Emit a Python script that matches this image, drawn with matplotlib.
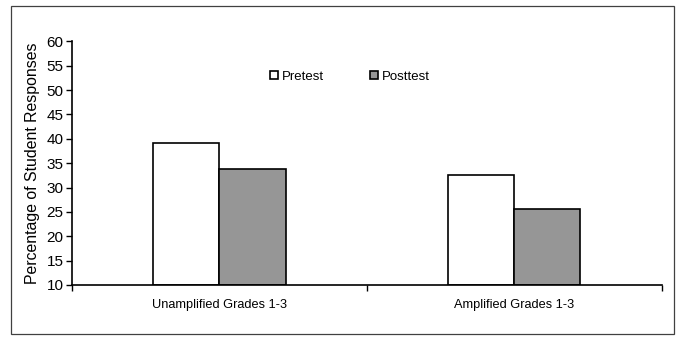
import matplotlib.pyplot as plt
import numpy as np
from matplotlib.patches import Rectangle, Patch

plt.rcParams['font.family'] = ['Liberation Sans', 'DejaVu Sans']

groups = ['Unamplified Grades 1-3', 'Amplified Grades 1-3']
pretest = [39.2, 32.6]
posttest = [33.9, 25.5]
series_names = ['Pretest', 'Posttest']

fig = plt.figure(figsize=(6.78, 3.39), dpi=100)
ax = fig.add_axes([0.1062, 0.1593, 0.870, 0.7188])

# outer border around the whole chart
fig.patches.append(Rectangle((0.0162, 0.0147), 0.978, 0.9676, transform=fig.transFigure,
                             fill=False, edgecolor='#404040', linewidth=0.9))

x = np.arange(len(groups)) + 0.5
w = 0.224
ax.bar(x - w / 2, np.array(pretest) - 10, w, bottom=10, color='white', edgecolor='black', linewidth=1.2)
ax.bar(x + w / 2, np.array(posttest) - 10, w, bottom=10, color='#969696', edgecolor='black', linewidth=1.2)

ax.set_xlim(0, 2)
ax.set_ylim(10, 60)
ax.set_yticks(range(10, 61, 5))
ax.tick_params(axis='y', labelsize=11, length=4, width=1, pad=2)
ax.set_xticks([0, 1, 2])
ax.set_xticklabels([])
ax.set_xticks(x, minor=True)
ax.set_xticklabels(groups, minor=True, fontsize=9.2)
ax.tick_params(axis='x', which='major', length=4, width=1)
ax.tick_params(axis='x', which='minor', length=0, pad=10)

for s in ['top', 'right']:
    ax.spines[s].set_visible(False)
for s in ['left', 'bottom']:
    ax.spines[s].set_linewidth(1.2)

ax.set_ylabel('Percentage of Student Responses', fontsize=11.4, labelpad=5)

handles = [Patch(facecolor='white', edgecolor='black', linewidth=1.2),
           Patch(facecolor='#969696', edgecolor='black', linewidth=1.2)]
ax.legend(handles, series_names, ncol=2, frameon=False, fontsize=9.5,
          handlelength=0.6, handleheight=0.6, handletextpad=0.3, columnspacing=3.45,
          loc='center', bbox_to_anchor=(0.471, 0.855))

fig.savefig('out.png', dpi=100)
